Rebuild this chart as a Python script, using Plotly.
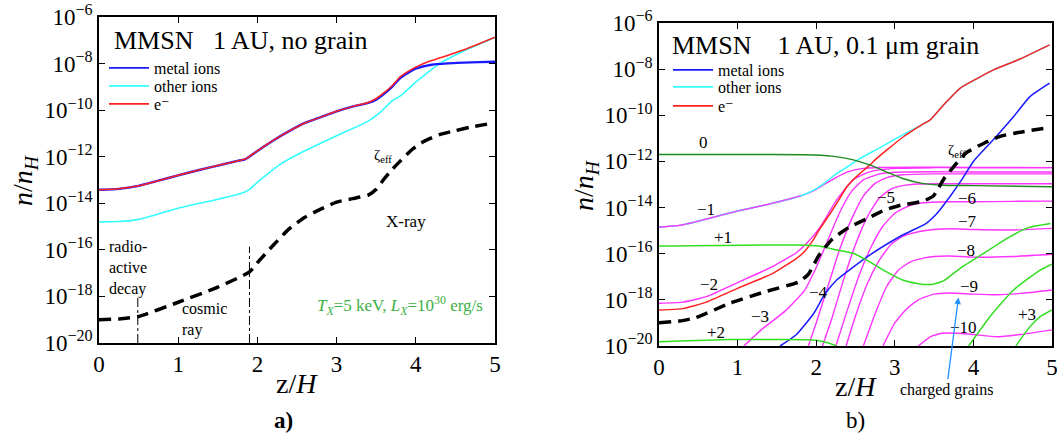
import plotly.graph_objects as go

# ---------------- data (log10 of n/n_H) ----------------
# Panel a) no grain
a_e_z = [0, 0.25, 0.5, 0.75, 1.0, 1.25, 1.5, 1.75, 1.85, 2.0, 2.2, 2.4, 2.6, 2.8, 3.0, 3.2, 3.4, 3.5, 3.6, 3.7, 3.8, 3.9, 4.0, 4.2, 4.4, 4.6, 4.8, 5.0]
a_e_log = [-13.42, -13.38, -13.25, -13.03, -12.8, -12.58, -12.38, -12.18, -12.1, -11.75, -11.3, -10.9, -10.55, -10.3, -10.05, -9.85, -9.67, -9.5, -9.25, -8.95, -8.58, -8.35, -8.15, -7.87, -7.65, -7.42, -7.15, -6.87]
a_metal_z = [0, 0.25, 0.5, 0.75, 1.0, 1.25, 1.5, 1.75, 1.85, 2.0, 2.2, 2.4, 2.6, 2.8, 3.0, 3.2, 3.4, 3.5, 3.6, 3.7, 3.8, 3.9, 4.0, 4.2, 4.4, 4.6, 4.8, 5.0]
a_metal_log = [-13.42, -13.38, -13.25, -13.03, -12.8, -12.58, -12.38, -12.18, -12.1, -11.75, -11.3, -10.9, -10.55, -10.3, -10.05, -9.85, -9.69, -9.55, -9.3, -9.0, -8.63, -8.4, -8.22, -8.05, -7.99, -7.96, -7.94, -7.92]
a_other_z = [0, 0.25, 0.5, 1.0, 1.5, 1.8, 1.9, 2.0, 2.3, 2.55, 3.0, 3.4, 3.55, 3.7, 3.8, 4.0, 4.3, 4.6, 5.0]
a_other_log = [-14.8, -14.78, -14.69, -14.21, -13.83, -13.57, -13.4, -13.1, -12.3, -11.83, -11.1, -10.47, -10.1, -9.6, -9.4, -8.8, -8.0, -7.47, -6.87]
a_zeta_z = [0, 0.25, 0.5, 1.0, 1.5, 1.9, 2.0, 2.2, 2.4, 2.6, 2.8, 3.0, 3.2, 3.4, 3.5, 3.6, 3.7, 3.8, 3.95, 4.1, 4.3, 4.5, 4.7, 4.95]
a_zeta_log = [-19.0, -18.97, -18.86, -18.25, -17.6, -16.95, -16.55, -15.8, -15.1, -14.6, -14.25, -13.95, -13.8, -13.65, -13.4, -12.95, -12.55, -12.2, -11.7, -11.35, -11.05, -10.88, -10.72, -10.57]
a_vline1_z = [0.49, 0.49]
a_vline1_log = [-20, -18.05]
a_vline2_z = [1.9, 1.9]
a_vline2_log = [-20, -15.86]

# Panel b) 0.1 micron grain
b_e_z = [0, 0.3, 0.6, 1.0, 1.45, 1.75, 1.84, 1.96, 2.05, 2.18, 2.3, 2.39, 2.5, 2.68, 2.77, 2.9, 3.11, 3.3, 3.45, 3.62, 3.83, 4.05, 4.25, 4.6, 4.97]
b_e_log = [-18.44, -18.38, -18.1, -17.5, -16.85, -16.2, -15.95, -15.41, -14.9, -14.25, -13.6, -13.1, -12.7, -12.16, -11.87, -11.5, -10.93, -10.5, -10.2, -9.55, -8.83, -8.4, -8.04, -7.55, -6.95]
b_other_z = [0, 0.3, 0.6, 1.0, 1.4, 1.8, 1.95, 2.1, 2.25, 2.4, 2.56, 2.8, 3.1, 3.45, 3.62, 3.83, 4.05, 4.25, 4.6, 4.97]
b_other_log = [-14.85, -14.75, -14.5, -14.15, -13.85, -13.5, -13.28, -12.95, -12.55, -12.22, -11.87, -11.42, -10.85, -10.2, -9.55, -8.83, -8.4, -8.04, -7.55, -6.95]
b_metal_z = [1.54, 1.75, 1.97, 2.1, 2.26, 2.68, 3.1, 3.4, 3.55, 3.7, 3.85, 4.0, 4.25, 4.51, 4.72, 4.97]
b_metal_log = [-20, -19.5, -18.58, -17.8, -17.14, -16.06, -15.19, -14.68, -14.2, -13.53, -12.8, -12.0, -11.07, -10.06, -9.19, -8.61]
b_zeta_z = [0, 0.26, 0.47, 0.9, 1.34, 1.77, 1.9, 2.03, 2.2, 2.41, 2.63, 2.84, 3.06, 3.36, 3.49, 3.62, 3.79, 3.92, 4.14, 4.35, 4.57, 4.98]
b_zeta_log = [-18.99, -18.92, -18.77, -18.15, -17.66, -17.23, -16.89, -16.1, -15.38, -14.87, -14.51, -14.15, -13.91, -13.72, -13.5, -12.78, -12.06, -11.6, -11.2, -10.9, -10.75, -10.52]

# neutral and positive grains
g0_z = [0, 1.0, 1.85, 2.2, 2.46, 2.68, 2.89, 3.1, 3.35, 3.62, 4.0, 5.0]
g0_log = [-11.7, -11.7, -11.71, -11.77, -11.92, -12.15, -12.45, -12.74, -12.95, -13.03, -13.05, -13.1]
gp1_z = [0, 1.77, 2.03, 2.28, 2.47, 2.68, 2.89, 3.1, 3.3, 3.47, 3.62, 3.84, 4.14, 4.44, 4.7, 4.98]
gp1_log = [-15.67, -15.62, -15.67, -15.85, -15.98, -16.35, -16.78, -17.14, -17.3, -17.33, -17.18, -16.61, -15.96, -15.31, -14.87, -14.69]
gp2a_z = [0, 0.9, 1.4, 1.9, 2.1, 2.26]
gp2a_log = [-19.82, -19.72, -19.72, -19.73, -19.82, -20]
gp2b_z = [3.94, 4.21, 4.51, 4.85, 5.0]
gp2b_log = [-20, -18.73, -17.57, -16.71, -16.45]
gp3_z = [4.54, 4.72, 4.85, 5.0]
gp3_log = [-20, -19.16, -18.73, -18.44]

# negative grains
gm1_z = [0, 0.3, 0.6, 1.0, 1.4, 1.8, 1.95, 2.1, 2.25, 2.4, 2.6, 2.8, 3.2, 4.0, 5.0]
gm1_log = [-14.85, -14.75, -14.5, -14.15, -13.85, -13.5, -13.3, -13.0, -12.7, -12.45, -12.3, -12.26, -12.25, -12.26, -12.27]
gm2_z = [0, 0.3, 0.6, 1.0, 1.45, 1.75, 1.88, 2.05, 2.26, 2.47, 2.68, 3.0, 3.5, 4.0, 5.0]
gm2_log = [-18.15, -18.1, -17.86, -17.25, -16.55, -15.95, -15.55, -14.85, -13.67, -12.8, -12.45, -12.3, -12.27, -12.27, -12.27]
gm3_z = [1.08, 1.3, 1.6, 1.85, 2.0, 2.15, 2.3, 2.45, 2.6, 2.8, 3.0, 3.5, 4.0, 5.0]
gm3_log = [-20, -19.3, -18.5, -17.6, -16.6, -15.4, -14.2, -13.3, -12.8, -12.55, -12.47, -12.45, -12.46, -12.46]
gm4_z = [1.9, 2.0, 2.15, 2.3, 2.45, 2.6, 2.75, 2.9, 3.1, 3.5, 4.0, 5.0]
gm4_log = [-20, -19.0, -17.4, -15.8, -14.5, -13.5, -12.95, -12.7, -12.58, -12.54, -12.54, -12.54]
gm5_z = [2.08, 2.2, 2.35, 2.5, 2.65, 2.8, 2.95, 3.1, 3.3, 3.6, 4.0, 5.0]
gm5_log = [-20, -18.8, -17.1, -15.6, -14.4, -13.6, -13.2, -13.05, -12.98, -12.97, -12.97, -12.97]
gm6_z = [2.25, 2.4, 2.55, 2.7, 2.85, 3.0, 3.2, 3.4, 3.7, 4.0, 4.5, 5.0]
gm6_log = [-20, -18.4, -16.9, -15.7, -14.8, -14.25, -13.9, -13.78, -13.75, -13.75, -13.73, -13.72]
gm7_z = [2.38, 2.5, 2.65, 2.8, 2.95, 3.1, 3.3, 3.5, 3.7, 4.0, 4.5, 5.0]
gm7_log = [-20, -18.7, -17.3, -16.3, -15.6, -15.25, -15.05, -14.95, -14.92, -14.95, -14.97, -14.9]
gm8_z = [2.6, 2.75, 2.9, 3.05, 3.2, 3.35, 3.5, 3.7, 4.0, 4.5, 5.0]
gm8_log = [-20, -18.6, -17.4, -16.7, -16.35, -16.2, -16.12, -16.1, -16.15, -16.12, -16.02]
gm9_z = [2.85, 3.0, 3.15, 3.3, 3.5, 3.7, 4.0, 4.3, 4.6, 5.0]
gm9_log = [-20, -19.0, -18.4, -18.0, -17.75, -17.7, -17.75, -17.78, -17.72, -17.57]
gm10_z = [3.3, 3.45, 3.6, 3.8, 4.0, 4.3, 4.6, 5.0]
gm10_log = [-20, -19.6, -19.45, -19.45, -19.5, -19.6, -19.5, -19.3]

tick_vals = [1e-20, 1e-18, 1e-16, 1e-14, 1e-12, 1e-10, 1e-8, 1e-6]
tick_text = ["10<sup>\u221220</sup>", "10<sup>\u221218</sup>", "10<sup>\u221216</sup>", "10<sup>\u221214</sup>",
             "10<sup>\u221212</sup>", "10<sup>\u221210</sup>", "10<sup>\u22128</sup>", "10<sup>\u22126</sup>"]
x_ticks = [0, 1, 2, 3, 4, 5]
legend_names = ["metal ions", "other ions", "e\u207b"]

# ---------------- figure ----------------
W, H = 1057, 437
FONT = "Liberation Serif, Times New Roman, DejaVu Serif, serif"
BLUE = "#1a1aff"
CYAN = "#33ffff"
RED = "#ff2020"
MAG = "#ff33ff"
GREEN = "#33dd22"
DGREEN = "#1f8a1f"

fig = go.Figure()


def add(z, lg, color, width, xa, ya, name=None, dash=None, legend=None, show=False, shape="spline"):
    fig.add_trace(go.Scatter(
        x=z, y=[10 ** v for v in lg], mode="lines",
        line=dict(color=color, width=width, dash=dash, shape=shape, smoothing=0.5),
        name=name, showlegend=show, legend=legend, xaxis=xa, yaxis=ya,
        hoverinfo="skip"))


# panel a
add(a_vline1_z, a_vline1_log, "black", 1, "x", "y", dash="dashdot", shape="linear")
add(a_vline2_z, a_vline2_log, "black", 1, "x", "y", dash="dashdot", shape="linear")
add(a_other_z, a_other_log, CYAN, 1.6, "x", "y")
add(a_metal_z, a_metal_log, BLUE, 2.4, "x", "y")
add(a_e_z, a_e_log, RED, 1.5, "x", "y")
add(a_zeta_z, a_zeta_log, "black", 3.5, "x", "y", dash="12px,7px")
for i, (nm, c) in enumerate(zip(legend_names, [BLUE, CYAN, RED])):
    add([None], [0], c, 1.8, "x", "y", name=nm, legend="legend" if i == 0 else "legend%d" % (i + 1), show=True)

# panel b
for z, lg in [(gm1_z, gm1_log), (gm2_z, gm2_log), (gm3_z, gm3_log), (gm4_z, gm4_log),
              (gm5_z, gm5_log), (gm6_z, gm6_log), (gm7_z, gm7_log), (gm8_z, gm8_log),
              (gm9_z, gm9_log), (gm10_z, gm10_log)]:
    add(z, lg, MAG, 1.4, "x2", "y2")
add(b_other_z, b_other_log, CYAN, 1.5, "x2", "y2")
add(gm1_z[:6], gm1_log[:6], MAG, 1.2, "x2", "y2")
add(b_e_z, b_e_log, RED, 1.5, "x2", "y2")
add(b_metal_z, b_metal_log, BLUE, 1.5, "x2", "y2")
add(g0_z, g0_log, DGREEN, 1.4, "x2", "y2")
add(gp1_z, gp1_log, GREEN, 1.5, "x2", "y2")
add(gp2a_z, gp2a_log, GREEN, 1.5, "x2", "y2")
add(gp2b_z, gp2b_log, GREEN, 1.5, "x2", "y2")
add(gp3_z, gp3_log, GREEN, 1.5, "x2", "y2")
add(b_zeta_z, b_zeta_log, "black", 3.5, "x2", "y2", dash="12px,7px")
for i, (nm, c) in enumerate(zip(legend_names, [BLUE, CYAN, RED])):
    add([None], [0], c, 1.8, "x2", "y2", name=nm, legend="legend%d" % (i + 4), show=True)

axis_common = dict(showline=True, linecolor="black", linewidth=1.5, mirror="allticks",
                   ticks="inside", ticklen=6, tickcolor="black", tickwidth=1,
                   showgrid=False, zeroline=False, ticklabeloverflow="allow",
                   tickfont=dict(family=FONT, size=23, color="black"))

leg_common = dict(xanchor="left", yanchor="top", bgcolor="rgba(0,0,0,0)",
                  font=dict(family=FONT, size=16, color="black"), tracegroupgap=0, itemwidth=40)

# legend rows: left panel centres at 69, 87, 105 px; right panel at 71, 88, 107 px
leg_layout = {}
for i, (lx, cy) in enumerate([(104, 69), (104, 87), (104, 105), (668, 71), (668, 88), (668, 107)]):
    key = "legend" if i == 0 else "legend%d" % (i + 1)
    leg_layout[key] = dict(x=lx / W, y=1 - (cy - 18) / H, **leg_common)

fig.update_layout(
    width=W, height=H, margin=dict(l=0, r=0, t=0, b=0, autoexpand=False),
    paper_bgcolor="white", plot_bgcolor="white",
    font=dict(family=FONT, color="black"),
    xaxis=dict(domain=[99 / W, 495 / W], range=[0, 5], tickvals=x_ticks, anchor="y", **axis_common),
    yaxis=dict(domain=[1 - 343 / H, 1 - 17 / H], type="log", range=[-20, -6], tickvals=tick_vals,
               ticktext=tick_text, anchor="x", **axis_common),
    xaxis2=dict(domain=[659 / W, 1052 / W], range=[0, 5], tickvals=x_ticks, anchor="y2", **axis_common),
    yaxis2=dict(domain=[1 - 346 / H, 1 - 23 / H], type="log", range=[-20, -6], tickvals=tick_vals,
                ticktext=tick_text, anchor="x2", **axis_common),
    **leg_layout,
)

ann = []


def txt(text, x, y, size, xref="paper", yref="paper", color="black", xanchor="center", yanchor="middle",
        angle=0, align="center"):
    ann.append(dict(text=text, x=x, y=y, xref=xref, yref=yref, showarrow=False,
                    font=dict(family=FONT, size=size, color=color), xanchor=xanchor, yanchor=yanchor,
                    textangle=angle, align=align))


# paper-level texts
txt("MMSN&nbsp;&nbsp;&nbsp;1 AU, no grain", 112 / W, 1 - 40 / H, 26, xanchor="left")
txt("MMSN&nbsp;&nbsp;&nbsp;&nbsp;1 AU, 0.1 \u03bcm grain", 670 / W, 1 - 45 / H, 26, xanchor="left")
txt("<i>n</i>/<i>n</i><sub><i>H</i></sub>", 24 / W, 1 - 180 / H, 28, angle=-90)
txt("<i>n</i>/<i>n</i><sub><i>H</i></sub>", 585 / W, 1 - 185 / H, 28, angle=-90)
txt("z/<i>H</i>", 297 / W, 1 - 383 / H, 28)
txt("z/<i>H</i>", 856 / W, 1 - 386 / H, 28)
txt("<b>a)</b>", 283 / W, 1 - 420 / H, 23)
txt("b)", 855 / W, 1 - 420 / H, 23)

# panel a labels (data coordinates; y is log10)
txt("radio-<br>active<br>decay", 0.1, -16.8, 16, "x", "y", xanchor="left", align="left")
txt("cosmic<br>ray", 1.02, -19.0, 16, "x", "y", xanchor="left", align="left")
txt("X-ray", 3.88, -14.8, 17, "x", "y")
txt("\u03b6<sub>eff</sub>", 3.58, -11.97, 15, "x", "y")
txt("<i>T<sub>X</sub></i>=5 keV, <i>L<sub>X</sub></i>=10<sup>30</sup> erg/s", 3.8, -18.37, 17, "x", "y",
    color="#3cb043")

# panel b labels
for t, zx, ly in [("0", 0.56, -11.2), ("\u22121", 0.6, -14.08), ("+1", 0.82, -15.31),
                  ("\u22122", 0.63, -17.33), ("+2", 0.73, -19.42), ("\u22123", 1.29, -18.7),
                  ("\u22124", 2.03, -17.66), ("\u22125", 2.89, -13.58), ("\u22126", 3.92, -13.62),
                  ("\u22127", 3.92, -14.59), ("\u22128", 3.9, -15.88), ("\u22129", 3.94, -17.4),
                  ("\u221210", 3.88, -19.2), ("+3", 4.68, -18.63)]:
    txt(t, zx, ly, 17, "x2", "y2")
txt("\u03b6<sub>eff</sub>", 3.79, -11.56, 15, "x2", "y2")

ann.append(dict(text="charged grains", x=3.81, y=-17.9, xref="x2", yref="y2", showarrow=True,
                ax=-12, ay=92, arrowhead=2, arrowsize=1, arrowwidth=1.3, arrowcolor="#1e90ff",
                font=dict(family=FONT, size=16, color="black")))

fig.update_layout(annotations=ann)
fig.write_html("out.html")
